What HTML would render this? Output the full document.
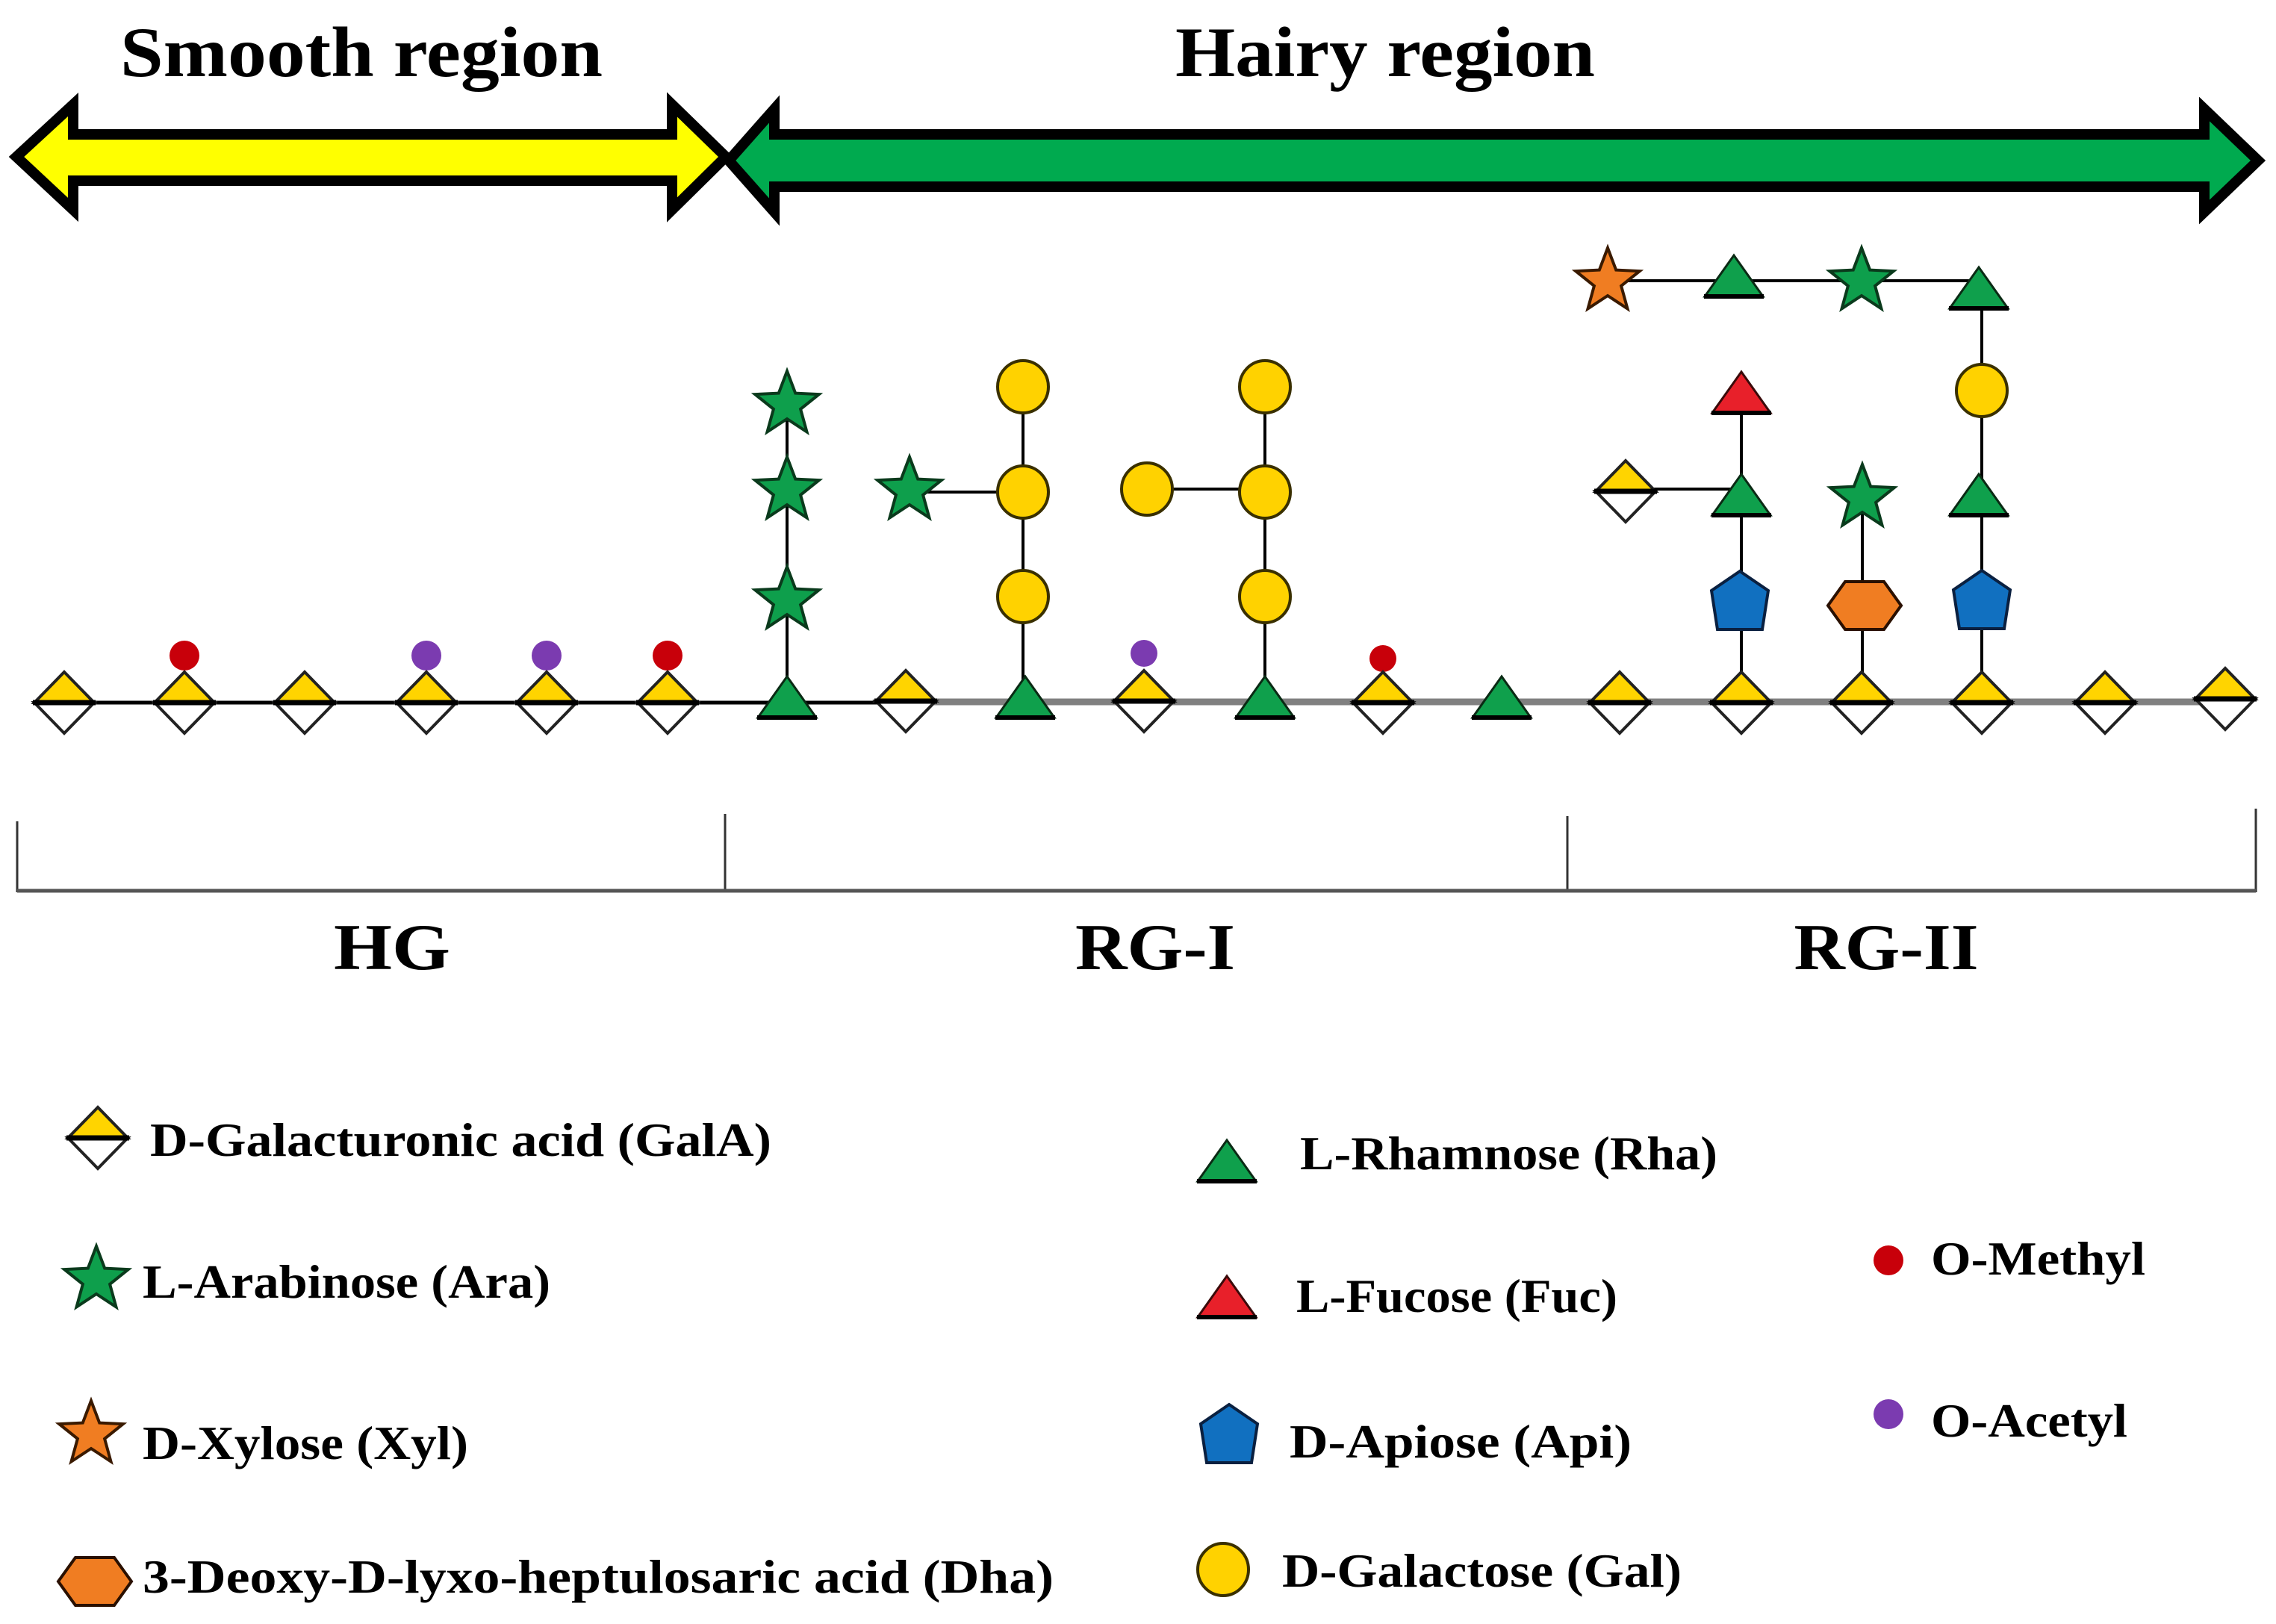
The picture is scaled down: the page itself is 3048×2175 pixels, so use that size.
<!DOCTYPE html>
<html><head><meta charset="utf-8"><style>
html,body{margin:0;padding:0;background:#fff;}
svg{display:block;}
text{font-family:"Liberation Serif",serif;font-weight:bold;fill:#000;}
</style></head><body>
<svg width="3048" height="2175" viewBox="0 0 3048 2175" xmlns="http://www.w3.org/2000/svg">
<defs>
<g id="galA">
 <polygon points="-40,0 0,-41 40,0" fill="#FFD400" stroke="#222" stroke-width="4" stroke-linejoin="miter"/>
 <polygon points="-40,0 0,41 40,0" fill="#fff" stroke="#222" stroke-width="4"/>
 <line x1="-42" y1="0" x2="42" y2="0" stroke="#000" stroke-width="7"/>
</g>
<g id="rha">
 <polygon points="-39,25 0,-30 39,25" fill="#0FA04C" stroke="#0a2a14" stroke-width="3"/>
 <line x1="-40" y1="25" x2="40" y2="25" stroke="#000" stroke-width="6"/>
</g>
<g id="fuc">
 <polygon points="-39,25 0,-30 39,25" fill="#E8202A" stroke="#3a0a0a" stroke-width="3"/>
 <line x1="-40" y1="25" x2="40" y2="25" stroke="#000" stroke-width="6"/>
</g>
<polygon id="star" points="0,-45 11.2,-15.4 42.8,-13.9 18.1,5.9 26.5,36.4 0,19 -26.5,36.4 -18.1,5.9 -42.8,-13.9 -11.2,-15.4" stroke-width="4" stroke-linejoin="miter"/>
<ellipse id="gal" rx="34" ry="35" fill="#FFD200" stroke="#3a3000" stroke-width="4"/>
<polygon id="api" points="0,-40 38,-14 30,38 -30,38 -38,-14" fill="#1170C0" stroke="#0a2040" stroke-width="4"/>
<polygon id="dha" points="-49,0 -26,-32 26,-32 49,0 26,32 -26,32" fill="#F07D22" stroke="#2a1000" stroke-width="4"/>
</defs>

<!-- headers -->
<text x="161" y="102" font-size="95" textLength="646" lengthAdjust="spacingAndGlyphs">Smooth region</text>
<text x="1574" y="102" font-size="95" textLength="562" lengthAdjust="spacingAndGlyphs">Hairy region</text>

<!-- arrows -->
<polygon points="22,210 98,140 98,180 900,180 900,140 972,210 900,281 900,242 98,242 98,281" fill="#FFFF00" stroke="#000" stroke-width="14" stroke-linejoin="miter"/>
<polygon points="976,215 1037,146 1037,180 2952,180 2952,146 3024,215 2952,284 2952,250 1037,250 1037,284" fill="#00AA4F" stroke="#000" stroke-width="14" stroke-linejoin="miter"/>

<!-- chain line -->
<line x1="60" y1="941" x2="1235" y2="941" stroke="#000" stroke-width="5"/>
<line x1="1235" y1="940" x2="2985" y2="940" stroke="#808080" stroke-width="9"/>

<!-- branch lines -->
<g stroke="#000" stroke-width="4">
<line x1="1054" y1="542" x2="1054" y2="941"/>
<line x1="1370" y1="518" x2="1370" y2="941"/>
<line x1="1218" y1="659" x2="1370" y2="659"/>
<line x1="1694" y1="518" x2="1694" y2="941"/>
<line x1="1536" y1="655" x2="1694" y2="655"/>
<line x1="2332" y1="510" x2="2332" y2="941"/>
<line x1="2177" y1="655" x2="2332" y2="655"/>
<line x1="2494" y1="667" x2="2494" y2="941"/>
<line x1="2654" y1="376" x2="2654" y2="941"/>
<line x1="2153" y1="376" x2="2654" y2="376"/>
</g>

<!-- dots -->
<circle cx="247" cy="878" r="20" fill="#C8000A"/>
<circle cx="571" cy="878" r="20" fill="#7B3BB0"/>
<circle cx="732" cy="878" r="20" fill="#7B3BB0"/>
<circle cx="894" cy="878" r="20" fill="#C8000A"/>
<circle cx="1532" cy="875" r="18" fill="#7B3BB0"/>
<circle cx="1852" cy="882" r="18" fill="#C8000A"/>

<!-- chain residues -->
<use href="#galA" x="86" y="941"/>
<use href="#galA" x="247" y="941"/>
<use href="#galA" x="408" y="941"/>
<use href="#galA" x="571" y="941"/>
<use href="#galA" x="732" y="941"/>
<use href="#galA" x="894" y="941"/>
<use href="#rha" x="1054" y="936"/>
<use href="#galA" x="1213" y="939"/>
<use href="#rha" x="1373" y="936"/>
<use href="#galA" x="1532" y="939"/>
<use href="#rha" x="1694" y="936"/>
<use href="#galA" x="1852" y="941"/>
<use href="#rha" x="2011" y="936"/>
<use href="#galA" x="2169" y="941"/>
<use href="#galA" x="2332" y="941"/>
<use href="#galA" x="2493" y="941"/>
<use href="#galA" x="2654" y="941"/>
<use href="#galA" x="2819" y="941"/>
<use href="#galA" x="2980" y="936"/>

<!-- RG-I branches -->
<use href="#star" x="1054" y="542" fill="#0E9F4C" stroke="#0a3a1c"/>
<use href="#star" x="1054" y="657" fill="#0E9F4C" stroke="#0a3a1c"/>
<use href="#star" x="1054" y="804" fill="#0E9F4C" stroke="#0a3a1c"/>
<use href="#star" x="1218" y="657" fill="#0E9F4C" stroke="#0a3a1c"/>
<use href="#gal" x="1370" y="518"/>
<use href="#gal" x="1370" y="659"/>
<use href="#gal" x="1370" y="799"/>
<use href="#gal" x="1536" y="655"/>
<use href="#gal" x="1694" y="518"/>
<use href="#gal" x="1694" y="659"/>
<use href="#gal" x="1694" y="799"/>

<!-- RG-II branches -->
<use href="#star" x="2153" y="377" fill="#F07D22" stroke="#3a1a00"/>
<use href="#rha" x="2322" y="372"/>
<use href="#star" x="2493" y="377" fill="#0E9F4C" stroke="#0a3a1c"/>
<use href="#rha" x="2650" y="388"/>
<use href="#gal" x="2654" y="523"/>
<use href="#fuc" x="2332" y="528"/>
<use href="#galA" x="2177" y="658"/>
<use href="#rha" x="2332" y="665"/>
<use href="#star" x="2494" y="667" fill="#0E9F4C" stroke="#0a3a1c"/>
<use href="#rha" x="2650" y="665"/>
<use href="#api" x="2330" y="805"/>
<use href="#dha" x="2497" y="811"/>
<use href="#api" x="2654" y="804"/>

<!-- brackets -->
<g stroke="#333" stroke-width="3">
<line x1="23" y1="1100" x2="23" y2="1195"/>
<line x1="971" y1="1090" x2="971" y2="1195"/>
<line x1="2099" y1="1093" x2="2099" y2="1195"/>
<line x1="3021" y1="1083" x2="3021" y2="1195"/>
</g>
<line x1="23" y1="1193" x2="3021" y2="1193" stroke="#555" stroke-width="5"/>
<text x="525" y="1298" font-size="88" text-anchor="middle" textLength="156" lengthAdjust="spacingAndGlyphs">HG</text>
<text x="1547" y="1298" font-size="88" text-anchor="middle" textLength="214" lengthAdjust="spacingAndGlyphs">RG-I</text>
<text x="2526" y="1298" font-size="88" text-anchor="middle" textLength="247" lengthAdjust="spacingAndGlyphs">RG-II</text>

<!-- legend left -->
<use href="#galA" x="131" y="1524"/>
<text x="201" y="1548" font-size="64" textLength="832" lengthAdjust="spacingAndGlyphs">D-Galacturonic  acid (GalA)</text>
<use href="#star" x="129" y="1714" fill="#0E9F4C" stroke="#0a3a1c"/>
<text x="191" y="1738" font-size="64" textLength="546" lengthAdjust="spacingAndGlyphs">L-Arabinose (Ara)</text>
<use href="#star" x="122" y="1921" fill="#F07D22" stroke="#3a1a00"/>
<text x="191" y="1954" font-size="64" textLength="436" lengthAdjust="spacingAndGlyphs">D-Xylose (Xyl)</text>
<use href="#dha" x="127" y="2118"/>
<text x="191" y="2133" font-size="64" textLength="1220" lengthAdjust="spacingAndGlyphs">3-Deoxy-D-lyxo-heptulosaric  acid (Dha)</text>

<!-- legend middle -->
<use href="#rha" x="1643" y="1557"/>
<text x="1741" y="1566" font-size="64" textLength="559" lengthAdjust="spacingAndGlyphs">L-Rhamnose (Rha)</text>
<use href="#fuc" x="1643" y="1739"/>
<text x="1736" y="1757" font-size="64" textLength="430" lengthAdjust="spacingAndGlyphs">L-Fucose (Fuc)</text>
<use href="#api" x="1646" y="1921"/>
<text x="1727" y="1952" font-size="64" textLength="458" lengthAdjust="spacingAndGlyphs">D-Apiose (Api)</text>
<use href="#gal" x="1638" y="2102"/>
<text x="1717" y="2125" font-size="64" textLength="535" lengthAdjust="spacingAndGlyphs">D-Galactose (Gal)</text>

<!-- legend right -->
<circle cx="2529" cy="1688" r="20" fill="#C8000A"/>
<text x="2586" y="1707" font-size="64" textLength="287" lengthAdjust="spacingAndGlyphs">O-Methyl</text>
<circle cx="2529" cy="1894" r="20" fill="#7B3BB0"/>
<text x="2586" y="1924" font-size="64" textLength="263" lengthAdjust="spacingAndGlyphs">O-Acetyl</text>
</svg>
</body></html>
